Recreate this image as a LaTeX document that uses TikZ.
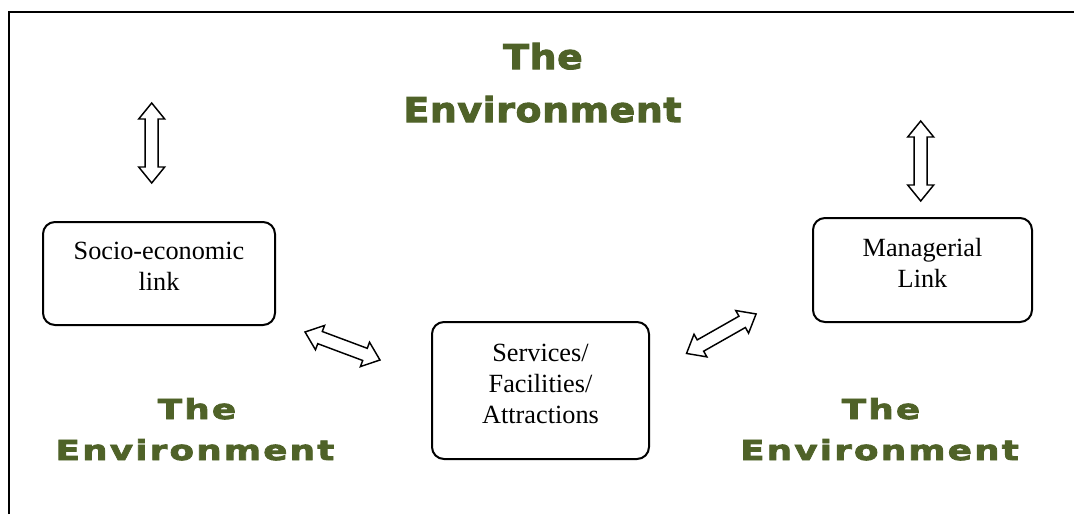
\documentclass[tikz,border=0pt]{standalone}
\usepackage{fontspec}
\setmainfont{Liberation Serif}
\newfontfamily\envbig{DejaVu Sans}[FakeStretch=1.1,FakeBold=3,LetterSpace=2]
\newfontfamily\envsmall{DejaVu Sans}[FakeStretch=1.3,FakeBold=3,LetterSpace=8]
\usepackage{tikz}
\usetikzlibrary{positioning}
\definecolor{envgreen}{HTML}{4F6228}
\tikzset{
  linkbox/.style={draw, line width=1.5pt, rounded corners=9pt, align=center,
    font=\fontsize{19.7}{23.4}\selectfont, text depth=10.5pt},
  envbigtext/.style={envgreen, inner sep=0pt, anchor=base, font=\envbig\bfseries\fontsize{25.7}{30}\selectfont},
  envsmalltext/.style={envgreen, inner sep=0pt, anchor=base, font=\envsmall\bfseries\fontsize{20.6}{24}\selectfont},
  dblarrow/.pic={\draw[line width=1.1pt, fill=white] (-40,0) -- (-24,13) -- (-24,6.5) -- (24,6.5) -- (24,13)
    -- (40,0) -- (24,-13) -- (24,-6.5) -- (-24,-6.5) -- (-24,-13) -- cycle;}
}
\begin{document}
\begin{tikzpicture}[x=0.75pt,y=-0.75pt]
      \useasboundingbox (0,0) rectangle (1074,514);
      \draw[line width=1.9pt] (9,514) -- (9,12) -- (1074,12);
      \node[envbigtext] (topthe) at (543,69) {The};
      \node[envbigtext] (topenv) at (542.5,122) {Environment};
      \node[envsmalltext] (leftthe) at (197,419) {The};
      \node[envsmalltext] (leftenv) at (195,460) {Environment};
      \node[envsmalltext] (rightthe) at (881,419) {The};
      \node[envsmalltext] (rightenv) at (879.5,460) {Environment};
      \node[linkbox, minimum width=174pt, minimum height=77.25pt] (socio) at (159,273.5) {Socio-economic\\link};
      \node[linkbox, minimum width=164.25pt, minimum height=78pt] (manager) at (922.5,270) {Managerial\\Link};
      \node[linkbox, minimum width=162.75pt, minimum height=102.75pt] (services) at (540.5,390.5) {Services/\\Facilities/\\Attractions};
      \pic[rotate=90] at (151.7,143) {dblarrow};
      \pic[rotate=90] at (920.7,161) {dblarrow};
      \pic[rotate=-20.5] at (342.5,346) {dblarrow};
      \pic[rotate=29.6] at (721.3,333.7) {dblarrow};
    \end{tikzpicture}
\end{document}
